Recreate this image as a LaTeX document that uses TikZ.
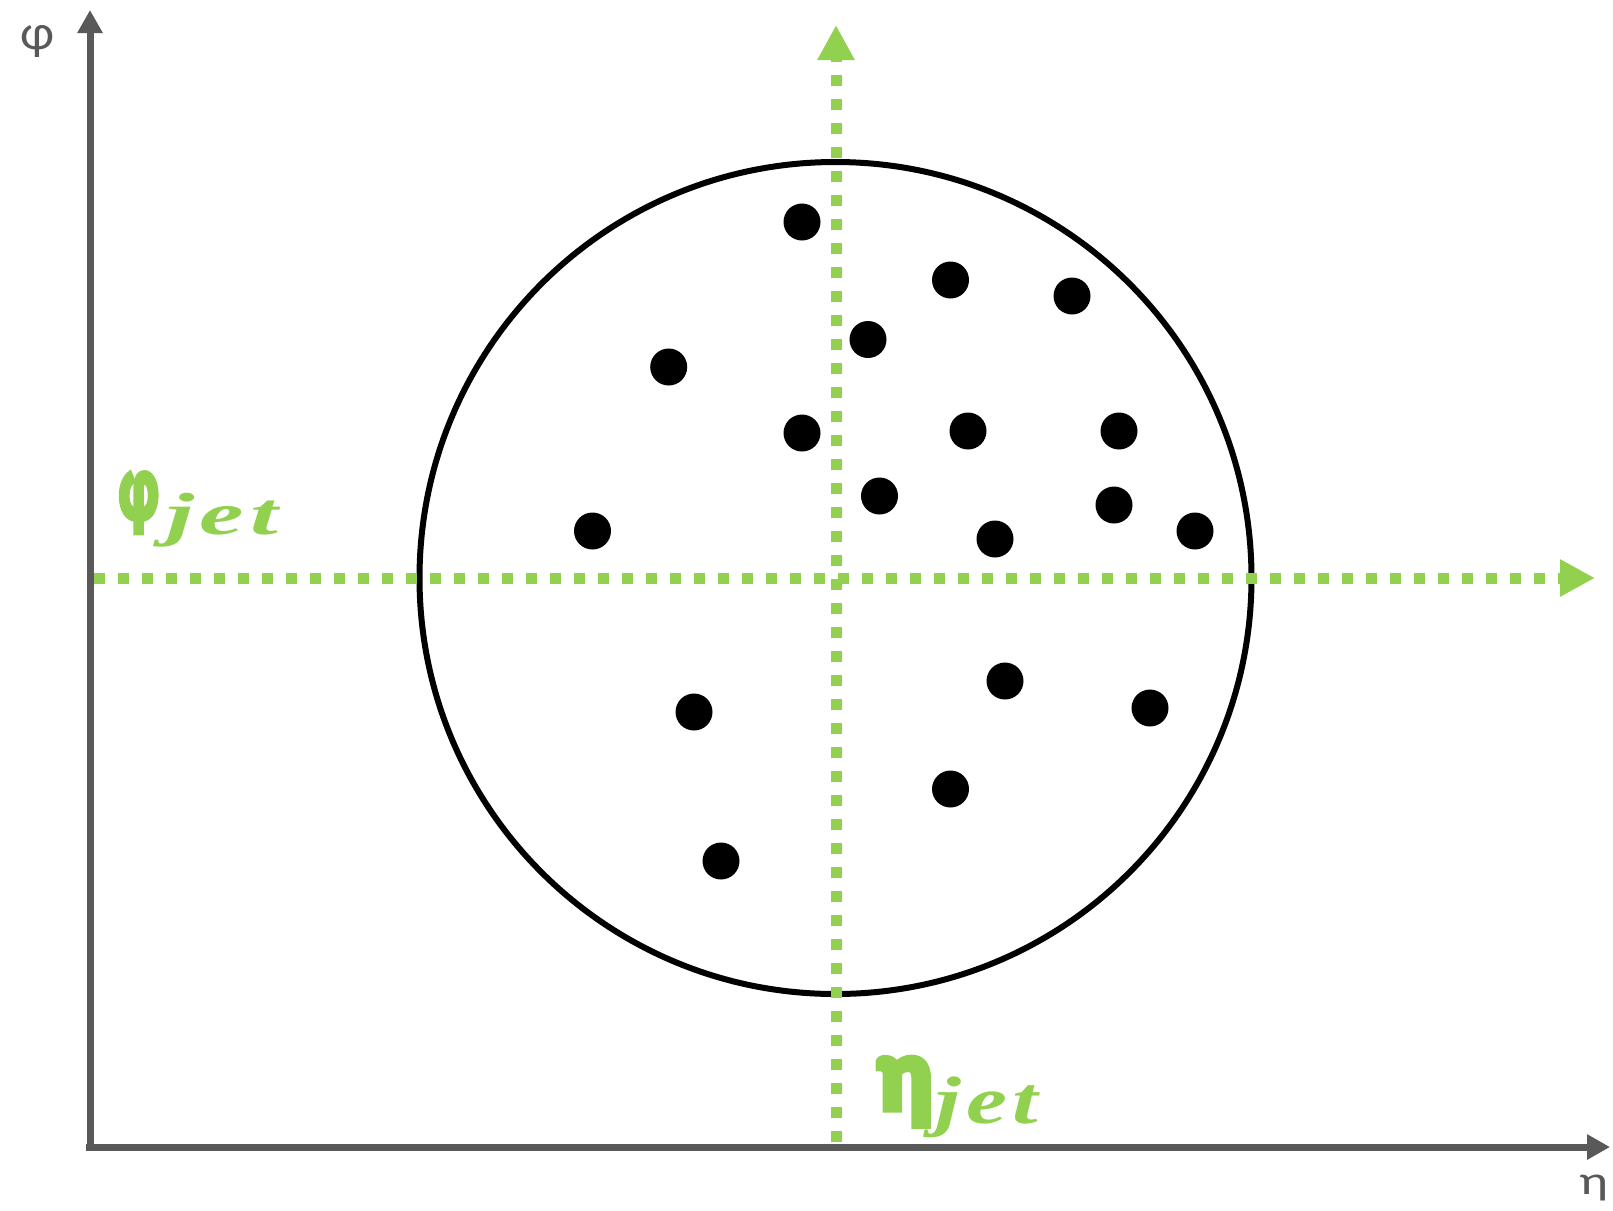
\documentclass[tikz,border=0pt]{standalone}
\usepackage{fontspec}
\usepackage{graphicx}
\newfontfamily\carl{Carlito}
\newfontfamily\jetfont[LetterSpace=6]{Liberation Serif}
\usetikzlibrary{arrows.meta}
\definecolor{axisgray}{HTML}{595959}
\definecolor{jetgreen}{HTML}{92D050}
\tikzset{
  axisline/.style={draw=axisgray, line width=7pt, -{Triangle[length=23pt,width=24pt]}},
  jetline/.style={draw=jetgreen, line width=11pt, dash pattern=on 11pt off 13pt, -{Triangle[length=35pt,width=35pt]}},
  particle/.style={circle, fill=black, inner sep=0pt, minimum size=37pt},
  conebox/.style={circle, draw=black, line width=6pt, inner sep=0pt, minimum size=832pt},
  axislabel/.style={text=axisgray, inner sep=0pt, anchor=north west},
  jetlabel/.style={text=jetgreen, inner sep=0pt, anchor=north west}
}
\newcommand{\fitbox}[3]{\resizebox*{#1}{#2}{#3}}
\newcommand{\heavy}[1]{\special{pdf:literal direct 2 Tr 0.7 w}#1\special{pdf:literal direct 0 Tr}}
\begin{document}
\begin{tikzpicture}[x=1pt,y=-1pt]
\useasboundingbox (0,0) rectangle (1613,1210);
% coordinates
\coordinate (Ystart) at (90,1150);
\coordinate (Ytip) at (90,10);
\coordinate (Xstart) at (86,1147);
\coordinate (Xtip) at (1610,1147);
\coordinate (Vstart) at (836,1142);
\coordinate (Vtip) at (836,25);
\coordinate (Hstart) at (94,578);
\coordinate (Htip) at (1595,578);
% cone
\node[conebox] (cone) at (835.5,578) {};
% jet axes
\draw[jetline] (Vstart) -- (Vtip);
\draw[jetline] (Hstart) -- (Htip);
% main axes
\draw[axisline] (Ystart) -- (Ytip);
\draw[axisline] (Xstart) -- (Xtip);
% particles
\node[particle] (p1) at (802,222) {};
\node[particle] (p2) at (950.5,280) {};
\node[particle] (p3) at (1072,296) {};
\node[particle] (p4) at (868,339.5) {};
\node[particle] (p5) at (668.7,367) {};
\node[particle] (p6) at (802,433) {};
\node[particle] (p7) at (968,431) {};
\node[particle] (p8) at (1119,431) {};
\node[particle] (p9) at (879.5,496) {};
\node[particle] (p10) at (1114,505) {};
\node[particle] (p11) at (592.5,531) {};
\node[particle] (p12) at (995,539) {};
\node[particle] (p13) at (1195,531) {};
\node[particle] (p14) at (1005,681) {};
\node[particle] (p15) at (1150,708) {};
\node[particle] (p16) at (694,712) {};
\node[particle] (p17) at (950.5,789) {};
\node[particle] (p18) at (721,861) {};
% axis labels
\node[axislabel] (philab) at (20,25) {\fitbox{34pt}{32pt}{\carl φ}};
\node[axislabel] (etalab) at (1579,1175) {\fitbox{29pt}{26pt}{\carl η}};
% jet labels
\node[jetlabel] (phijet) at (119,473) {\fitbox{39pt}{59pt}{\carl\bfseries\heavy{φ}}};
\node[jetlabel] (phijetsub) at (166,493) {\fitbox{112pt}{54pt}{\jetfont\bfseries\itshape jet}};
\node[jetlabel] (etajet) at (877,1058) {\fitbox{55pt}{67pt}{\carl\bfseries\heavy{η}}};
\node[jetlabel] (etajetsub) at (935,1077) {\fitbox{103pt}{61pt}{\jetfont\bfseries\itshape jet}};
\end{tikzpicture}
\end{document}
